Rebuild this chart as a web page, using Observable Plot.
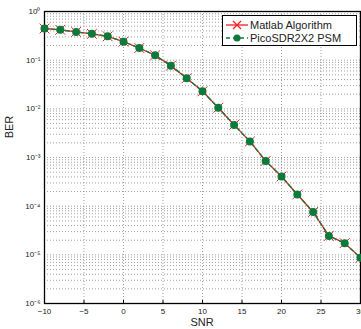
<!DOCTYPE html>
<html><head><meta charset="utf-8">
<script src="https://cdn.jsdelivr.net/npm/d3@7"></script>
<script src="https://cdn.jsdelivr.net/npm/@observablehq/plot@0.6"></script>
<style>
html,body{margin:0;padding:0;background:#fff;}
#wrap{position:relative;width:361px;height:329px;font-family:"Liberation Sans",Arial,sans-serif;}
#legend{position:absolute;left:222px;top:15px;width:133px;height:29px;border:1px solid #000;background:#fff;font-size:11px;color:#222;}
.lrow{position:absolute;left:3px;height:13px;display:flex;align-items:center;}
.lrow span{margin-left:2px;white-space:nowrap;}
#ylab{position:absolute;left:9px;top:127px;transform:translate(-50%,-50%) rotate(-90deg);font-size:11px;color:#222;}
#xlab{position:absolute;left:202px;top:322px;transform:translate(-50%,-50%);font-size:11px;color:#222;}
</style></head>
<body><div id="wrap"></div>
<script>
const snr = [-10,-8,-6,-4,-2,0,2,4,6,8,10,12,14,16,18,20,22,24,26,28,30];
const berMatlab = [0.447,0.421,0.380,0.347,0.309,0.240,0.178,0.126,0.0767,0.0427,0.0229,0.0105,0.00468,0.00214,0.000851,0.000407,0.000174,0.0000759,0.0000245,0.0000174,0.0000087];
const berPico = [0.447,0.421,0.380,0.347,0.309,0.240,0.178,0.126,0.0767,0.0427,0.0229,0.0105,0.00468,0.00214,0.000851,0.000407,0.000174,0.0000759,0.0000245,0.0000174,0.0000087];
const xTicks = [-10,-5,0,5,10,15,20,25,30];
const yTicks = [1e-6,1e-5,1e-4,1e-3,1e-2,1e-1,1];
const yTickLabels = ["10⁻⁶","10⁻⁵","10⁻⁴","10⁻³","10⁻²","10⁻¹","10⁰"];
const seriesNames = ["Matlab Algorithm","PicoSDR2X2 PSM"];

const matlab = snr.map((s,i)=>({snr:s, ber:berMatlab[i]}));
const pico = snr.map((s,i)=>({snr:s, ber:berPico[i]}));
const yMinor = [];
for (let e=-6;e<0;e++) for (let m=1;m<10;m++) yMinor.push(m*Math.pow(10,e));

const red = "#ff1a1a", green = "#0b7a3a";
const chart = Plot.plot({
  width:361, height:329,
  marginLeft:44, marginTop:11, marginBottom:26, marginRight:1,
  style:{fontFamily:"'Liberation Sans',Arial,sans-serif", fontSize:"8px", color:"#222", background:"#fff"},
  x:{domain:[-10,30]},
  y:{type:"log", domain:[1e-6,1]},
  marks:[
    Plot.ruleY(yMinor,{stroke:"#888", strokeWidth:0.8, strokeDasharray:"1,2"}),
    Plot.ruleX(xTicks,{stroke:"#888", strokeWidth:0.8, strokeDasharray:"1,2"}),
    Plot.axisX({ticks:xTicks, tickSize:-3, tickPadding:8, stroke:"#000", label:null}),
    Plot.axisY({ticks:yTicks, tickSize:0, tickPadding:4, label:null, tickFormat:(d)=>yTickLabels[yTicks.indexOf(d)]}),
    Plot.frame({stroke:"#000", strokeWidth:1.3}),
    Plot.line(matlab,{x:"snr", y:"ber", stroke:red, strokeWidth:1.3}),
    Plot.dot(matlab,{x:"snr", y:"ber", symbol:"times", r:4.5, stroke:red, strokeWidth:1}),
    Plot.line(pico,{x:"snr", y:"ber", stroke:green, strokeWidth:1.3, strokeDasharray:"4,3"}),
    Plot.dot(pico,{x:"snr", y:"ber", r:4, fill:green, stroke:"none"})
  ]
});
const wrap = document.getElementById("wrap");
wrap.appendChild(chart);
const lg = document.createElement("div");
lg.id = "legend";
lg.innerHTML = `
<div class="lrow" style="top:2px"><svg width="22" height="12"><line x1="0" y1="6" x2="22" y2="6" stroke="${red}" stroke-width="1.3"/><path d="M7,2L15,10M15,2L7,10" stroke="${red}" stroke-width="1.2"/></svg><span>${seriesNames[0]}</span></div>
<div class="lrow" style="top:15px"><svg width="22" height="12"><line x1="0" y1="6" x2="22" y2="6" stroke="${green}" stroke-width="1.3" stroke-dasharray="4,3"/><circle cx="11" cy="6" r="3.5" fill="${green}"/></svg><span>${seriesNames[1]}</span></div>`;
wrap.appendChild(lg);
const yl = document.createElement("div"); yl.id="ylab"; yl.textContent="BER"; wrap.appendChild(yl);
const xl = document.createElement("div"); xl.id="xlab"; xl.textContent="SNR"; wrap.appendChild(xl);
</script></body></html>
